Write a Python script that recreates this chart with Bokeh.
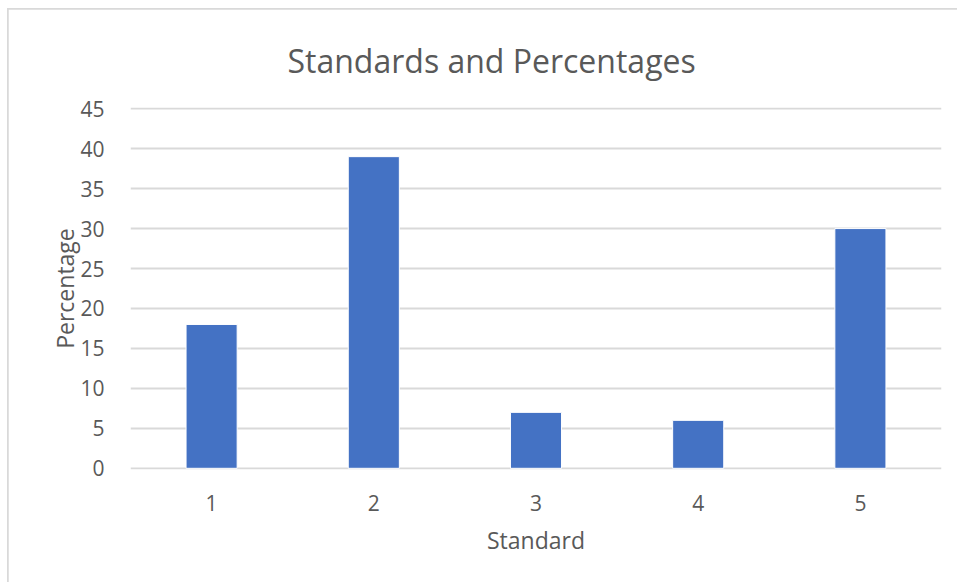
from bokeh.plotting import figure
from bokeh.models import FixedTicker, Title
from bokeh.embed import file_html
from bokeh.resources import INLINE

standards = ["1", "2", "3", "4", "5"]
percentages = [18, 39, 7, 6, 30]
y_ticks = [0, 5, 10, 15, 20, 25, 30, 35, 40, 45]
title_text = "Standards and Percentages"
x_label = "Standard"
y_label = "Percentage"

FONT = "Open Sans"
TXT = "#595959"
GRID = "#d9d9d9"

p = figure(width=949, height=573, x_range=(0.5, 5.5), y_range=(-0.15, 45.15),
           output_backend="svg", toolbar_location=None, tools="",
           min_border_left=122, min_border_right=16, min_border_top=98, min_border_bottom=113)
p.margin = (9, 0, 0, 8)
p.styles = {"outline": "2px solid #d9d9d9", "outline-offset": "-1px"}
p.outline_line_color = None
p.background_fill_color = "white"
p.border_fill_color = "white"

xs = [int(s) for s in standards]
p.vbar(x=xs, top=percentages, width=0.315, color="#4472C4", line_color="white", line_width=1)

p.xaxis.ticker = FixedTicker(ticks=xs)
p.xaxis.major_label_overrides = {x: s for x, s in zip(xs, standards)}
p.yaxis.ticker = FixedTicker(ticks=y_ticks)

for ax in (p.xaxis[0], p.yaxis[0]):
    ax.axis_line_color = None
    ax.major_tick_line_color = None
    ax.minor_tick_line_color = None
    ax.major_label_text_font = FONT
    ax.major_label_text_font_size = "21px"
    ax.major_label_text_color = TXT
    ax.axis_label_text_font = FONT
    ax.axis_label_text_font_size = "23px"
    ax.axis_label_text_color = TXT
    ax.axis_label_text_font_style = "normal"

p.xaxis.major_label_standoff = 19
p.yaxis.major_label_standoff = 20
p.xaxis.axis_label = x_label
p.xaxis.axis_label_standoff = 10
p.yaxis.axis_label = y_label
p.yaxis.axis_label_standoff = -4

p.xgrid.grid_line_color = None
p.ygrid.grid_line_color = GRID
p.ygrid.grid_line_width = 2

p.add_layout(Title(text=title_text, align="left", offset=157, standoff=50,
                   vertical_align="middle",
                   text_font=FONT, text_font_size="32px", text_color=TXT,
                   text_font_style="normal"), "above")

open("out.html", "w").write(file_html(p, INLINE))
